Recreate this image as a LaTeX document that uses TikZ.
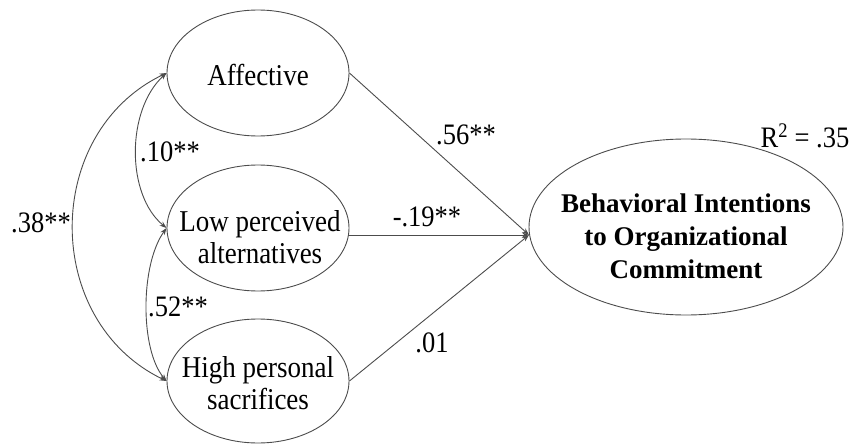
\documentclass[tikz,border=0pt]{standalone}
\usepackage{graphicx}
\usepackage{fontspec}
\setmainfont{Liberation Serif}
\usetikzlibrary{shapes.geometric,arrows.meta}
\newcommand\vstr[1]{\scalebox{1}[1.12]{#1}}
\begin{document}
\begin{tikzpicture}[x=1pt,y=-1pt,
  var/.style={ellipse,draw=black!70,line width=0.9pt,minimum width=182pt,minimum height=126pt,inner sep=0pt,align=center,font=\fontsize{27}{32}\selectfont},
  txt/.style={align=center,inner sep=0pt,font=\fontsize{27}{32}\selectfont},
  lbl/.style={font=\fontsize{26.5}{31}\selectfont,inner sep=0pt},
  reg/.style={draw=black!70,line width=0.9pt,-{Stealth[length=7pt,width=5pt]}},
  cov/.style={draw=black!70,line width=0.9pt,{Stealth[length=7pt,width=5pt]}-{Stealth[length=7pt,width=5pt]}}]
\useasboundingbox (0,0) rectangle (852,444);
\node[var] (aff) at (258,73) {};
\node[txt] (afft) at (258,75) {\vstr{Affective}};
\node[var] (low) at (258,228) {};
\node[txt] (lowt) at (260,237) {\vstr{Low perceived}\\\vstr{alternatives}};
\node[var,minimum height=124pt] (high) at (258,381) {};
\node[txt] (hight) at (258,383) {\vstr{High personal}\\\vstr{sacrifices}};
\node[var,minimum width=314pt,minimum height=176pt] (bic) at (686,227) {};
\node[txt,font=\bfseries\fontsize{27}{33}\selectfont] (bict) at (686,236) {Behavioral Intentions\\to Organizational\\Commitment};
\coordinate (t) at (529,235);
\draw[reg] (aff.east) -- (t);
\draw[reg] (low.east |- t) -- (t);
\draw[reg] (high.east) -- (t);
\draw[cov] (aff.west) .. controls (42,133) and (42,321) .. (high.west);
\draw[cov] (aff.west) .. controls (126,110) and (126,195) .. (low.west);
\draw[cov] (low.west) .. controls (140,265) and (140,350) .. (high.west);
\node[lbl] (l56) at (466,135) {\vstr{.56**}};
\node[lbl] (l19) at (427,217) {\vstr{-.19**}};
\node[lbl] (l01) at (432,343) {\vstr{.01}};
\node[lbl] (r2) at (805,136) {\vstr{R\textsuperscript{2} = .35}};
\node[lbl] (l10) at (170,152) {\vstr{.10**}};
\node[lbl] (l38) at (41,223) {\vstr{.38**}};
\node[lbl] (l52) at (178,307) {\vstr{.52**}};
\end{tikzpicture}
\end{document}
